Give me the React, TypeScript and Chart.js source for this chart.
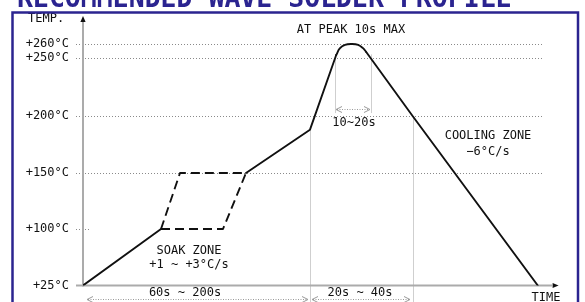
import React, { useEffect, useRef } from 'react';
import { Chart, registerables, LinearScale } from 'chart.js';

// ---------- DATA (schematic time units, °C) ----------
const rampTime = [0, 39];
const rampTemp = [25, 100];

const soakUpperTime = [39, 48.5, 81.5];
const soakUpperTemp = [100, 150, 150];

const soakLowerTime = [39, 70, 81.5];
const soakLowerTemp = [100, 100, 150];

const preheatTime = [81.5, 113.5, 126.6];
const preheatTemp = [150, 188, 252];

const peakTime = [126.6, 128.4, 131, 134.3, 137.6, 140, 141.6];
const peakTemp = [252, 256.8, 259.4, 260, 259.4, 257, 254.2];

const coolTime = [141.6, 164.8, 227.4];
const coolTemp = [254.2, 200, 25];

const yTicks = [25, 100, 150, 200, 250, 260];
const yTickLabels = ['+25°C', '+100°C', '+150°C', '+200°C', '+250°C', '+260°C'];

const TITLE = 'RECOMMENDED WAVE SOLDER PROFILE';

// ---------- LAYOUT (schematic, non-linear temperature axis) ----------
const Y_STOP_FRACTIONS = [0, 0.2104, 0.419, 0.6313, 0.848, 0.8994];

function tempToDecimal(v: number): number {
  const s = yTicks;
  const f = Y_STOP_FRACTIONS;
  let i = 0;
  if (v >= s[s.length - 1]) i = s.length - 2;
  else if (v > s[0]) {
    while (i < s.length - 2 && v > s[i + 1]) i++;
  }
  return f[i] + ((v - s[i]) * (f[i + 1] - f[i])) / (s[i + 1] - s[i]);
}
function decimalToTemp(d: number): number {
  const s = yTicks;
  const f = Y_STOP_FRACTIONS;
  let i = 0;
  if (d >= f[f.length - 1]) i = f.length - 2;
  else if (d > f[0]) {
    while (i < f.length - 2 && d > f[i + 1]) i++;
  }
  return s[i] + ((d - f[i]) * (s[i + 1] - s[i])) / (f[i + 1] - f[i]);
}

class SchematicTempScale extends (LinearScale as any) {
  static id = 'schematicTemp';
  static defaults = (LinearScale as any).defaults;
  getPixelForValue(value: number) {
    return (this as any).getPixelForDecimal(tempToDecimal(value));
  }
  getValueForPixel(pixel: number) {
    return decimalToTemp((this as any).getDecimalForPixel(pixel));
  }
}

Chart.register(...registerables, SchematicTempScale as any);

const pts = (xs: number[], ys: number[]) => xs.map((x, i) => ({ x, y: ys[i] }));

const BLUE = '#2b2490';
const INK = '#111';
const FONT = '12px "DejaVu Sans Mono"';

const decorPlugin = {
  id: 'decor',
  beforeDraw(chart: any) {
    const ctx = chart.ctx;
    ctx.save();
    ctx.fillStyle = '#fff';
    ctx.fillRect(0, 0, chart.width, chart.height);
    ctx.restore();
  },
  beforeDatasetsDraw(chart: any) {
    const ctx = chart.ctx;
    const xs = chart.scales.x;
    const ys = chart.scales.y;
    const X = (v: number) => xs.getPixelForValue(v);
    const Y = (v: number) => ys.getPixelForValue(v);
    const H = chart.height;
    ctx.save();

    // dotted grid lines
    ctx.strokeStyle = '#8a8a8a';
    ctx.lineWidth = 1;
    ctx.setLineDash([1, 2]);
    const gridLevels = [260, 250, 200, 150];
    for (const lv of gridLevels) {
      const y = Math.round(Y(lv)) + 0.5;
      ctx.beginPath();
      ctx.moveTo(X(-3.5), y);
      ctx.lineTo(X(230), y);
      ctx.stroke();
    }
    {
      const y = Math.round(Y(100)) + 0.5;
      ctx.beginPath();
      ctx.moveTo(X(-3.5), y);
      ctx.lineTo(X(3.5), y);
      ctx.stroke();
    }
    ctx.setLineDash([]);

    // guide verticals
    ctx.strokeStyle = '#cfcfcf';
    ctx.lineWidth = 1;
    const vline = (t: number, y0: number, y1: number) => {
      const x = Math.round(X(t)) + 0.5;
      ctx.beginPath();
      ctx.moveTo(x, y0);
      ctx.lineTo(x, y1);
      ctx.stroke();
    };
    vline(113.5, Y(188), H);
    vline(164.8, Y(200), H);
    vline(125.75, Y(252.5), Y(202.5));
    vline(143.75, Y(252.5), Y(202.5));

    // axes
    ctx.strokeStyle = '#ababab';
    ctx.lineWidth = 2;
    ctx.beginPath();
    ctx.moveTo(X(0), Y(25) + 1);
    ctx.lineTo(X(0), chart.chartArea.top + 4);
    ctx.stroke();
    ctx.beginPath();
    ctx.moveTo(X(-3.5), Y(25));
    ctx.lineTo(X(234.5), Y(25));
    ctx.stroke();
    ctx.restore();
  },
  afterDatasetsDraw(chart: any) {
    const ctx = chart.ctx;
    const xs = chart.scales.x;
    const ys = chart.scales.y;
    const X = (v: number) => xs.getPixelForValue(v);
    const Y = (v: number) => ys.getPixelForValue(v);
    ctx.save();

    // axis arrowheads
    ctx.fillStyle = '#111';
    const ax = X(0);
    const top = chart.chartArea.top;
    ctx.beginPath();
    ctx.moveTo(ax, top - 1);
    ctx.lineTo(ax - 2.6, top + 5);
    ctx.lineTo(ax + 2.6, top + 5);
    ctx.closePath();
    ctx.fill();
    const ay = Y(25);
    const xr = X(237.8);
    ctx.beginPath();
    ctx.moveTo(xr, ay);
    ctx.lineTo(xr - 6, ay - 2.6);
    ctx.lineTo(xr - 6, ay + 2.6);
    ctx.closePath();
    ctx.fill();

    // gray double arrows
    const dblArrow = (x0: number, x1: number, y: number) => {
      ctx.strokeStyle = '#9a9a9a';
      ctx.lineWidth = 1;
      ctx.setLineDash([1, 1.5]);
      ctx.beginPath();
      ctx.moveTo(x0 + 1, y);
      ctx.lineTo(x1 - 1, y);
      ctx.stroke();
      ctx.setLineDash([]);
      ctx.beginPath();
      ctx.moveTo(x0 + 6, y - 3);
      ctx.lineTo(x0, y);
      ctx.lineTo(x0 + 6, y + 3);
      ctx.moveTo(x1 - 6, y - 3);
      ctx.lineTo(x1, y);
      ctx.lineTo(x1 - 6, y + 3);
      ctx.stroke();
    };
    dblArrow(X(126.5), X(143.5), Math.round(Y(206)) + 0.5);
    dblArrow(X(2), X(112.5), 299.5);
    dblArrow(X(114.5), X(163.5), 299.5);

    // texts
    ctx.fillStyle = INK;
    ctx.font = FONT;
    ctx.textBaseline = 'middle';
    ctx.textAlign = 'right';
    yTicks.forEach((v, i) => {
      ctx.fillText(yTickLabels[i], 69, Y(v));
    });
    ctx.textAlign = 'left';
    ctx.fillText('TEMP.', 28, 19);
    ctx.textAlign = 'center';
    ctx.fillText('AT PEAK 10s MAX', 351, 30);
    ctx.fillText('10~20s', 354, 123);
    ctx.fillText('SOAK ZONE', 189, 251);
    ctx.fillText('+1 ~ +3°C/s', 189, 264.5);
    ctx.fillText('COOLING ZONE', 488, 136);
    ctx.fillText('−6°C/s', 488, 152);
    ctx.fillText('60s ~ 200s', 185, 293);
    ctx.fillText('20s ~ 40s', 360, 293);
    ctx.fillText('TIME', 546, 298);

    // frame and title
    ctx.strokeStyle = BLUE;
    ctx.lineWidth = 2.5;
    ctx.strokeRect(12.5, 12.5, 565.5, 300);
    ctx.fillStyle = BLUE;
    ctx.font = 'bold 26.5px "DejaVu Sans Mono"';
    ctx.textAlign = 'left';
    ctx.textBaseline = 'alphabetic';
    ctx.fillText(TITLE, 17, 7);
    ctx.restore();
  },
};

export default function App() {
  const ref = useRef<HTMLCanvasElement>(null);
  useEffect(() => {
    if (!ref.current) return;
    const solid = { borderColor: '#111', borderWidth: 1.9, pointRadius: 0, tension: 0, borderCapStyle: 'round', borderJoinStyle: 'round', fill: false };
    const dashed = { ...solid, borderDash: [9, 5], borderCapStyle: 'butt' };
    const chart = new Chart(ref.current, {
      type: 'line',
      data: {
        datasets: [
          { ...solid, label: 'ramp', data: pts(rampTime, rampTemp) },
          { ...dashed, label: 'soak upper', data: pts(soakUpperTime, soakUpperTemp) },
          { ...dashed, label: 'soak lower', data: pts(soakLowerTime, soakLowerTemp) },
          { ...solid, label: 'preheat', data: pts(preheatTime, preheatTemp) },
          { ...solid, label: 'peak', data: pts(peakTime, peakTemp), tension: 0.4 },
          { ...solid, label: 'cooling', data: pts(coolTime, coolTemp) },
        ] as any,
      },
      options: {
        responsive: false,
        animation: false,
        events: [],
        layout: { padding: { left: 83, right: 32, top: 17, bottom: 16.5 } },
        plugins: { legend: { display: false }, tooltip: { enabled: false } },
        scales: {
          x: { type: 'linear', display: false, min: 0, max: 235 },
          y: { type: 'schematicTemp' as any, display: false, min: 25, max: 270 },
        },
      } as any,
      plugins: [decorPlugin],
    });
    return () => chart.destroy();
  }, []);
  return (
    <div style={{ position: 'absolute', left: 0, top: 0, width: 585, height: 302 }}>
      <canvas ref={ref} width={585} height={302} style={{ display: 'block' }} />
    </div>
  );
}
